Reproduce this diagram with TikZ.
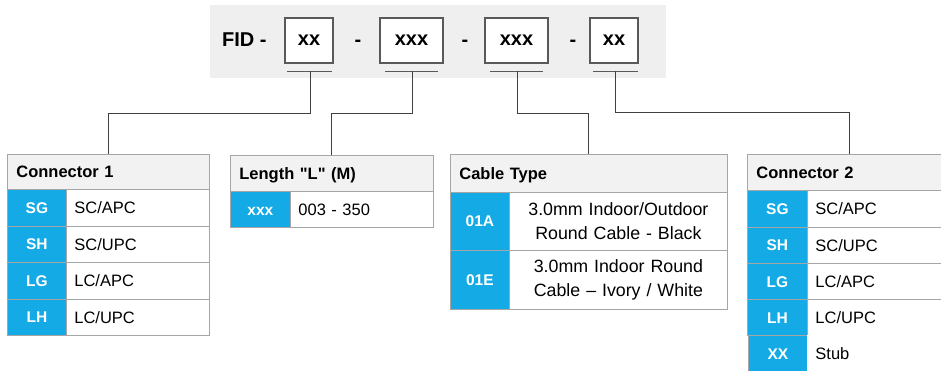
\documentclass[tikz,border=0pt]{standalone}
\usepackage{fontspec}
\setmainfont{Liberation Sans}
\definecolor{codeblue}{HTML}{14AAE6}
\definecolor{hdrgray}{HTML}{F2F2F2}
\definecolor{bordgray}{HTML}{A6A6A6}
\definecolor{bandgray}{HTML}{EFEFEF}
\definecolor{boxgray}{HTML}{595959}
\definecolor{linegray}{HTML}{404040}
\newcommand\myhdrfont{\fontsize{16.5}{19}\selectfont\bfseries}
\newcommand\mycodefont{\fontsize{15.5}{18}\selectfont\bfseries}
\newcommand\myvalfont{\fontsize{16.5}{19}\selectfont}
\newcommand\mycabfont{\fontsize{17.8}{24}\selectfont}
\newcommand\myfidfont{\fontsize{20}{24}\selectfont\bfseries}
\begin{document}
\begin{tikzpicture}[x=1pt,y=-1pt,
  band/.style={fill=bandgray, draw=none, anchor=north west, inner sep=0pt},
  fidbox/.style={draw=boxgray, fill=white, line width=1.2pt, inner sep=0pt, minimum height=45pt, font=\myfidfont},
  plain/.style={inner sep=0pt, font=\myfidfont},
  uline/.style={draw=boxgray, line width=1pt},
  conn/.style={draw=linegray, line width=1pt},
  hdr/.style={draw=bordgray, fill=hdrgray, line width=0.8pt, anchor=north west, inner xsep=9pt, inner ysep=0pt, align=left, font=\myhdrfont, text height=12pt, text depth=0pt},
  code/.style={draw=bordgray, fill=codeblue, line width=0.8pt, anchor=north west, inner sep=0pt, text=white, font=\mycodefont, minimum width=59pt, text height=11.2pt, text depth=0pt},
  val/.style={draw=bordgray, fill=white, line width=0.8pt, anchor=north west, inner xsep=8pt, inner ysep=0pt, align=left, font=\myvalfont, text height=12pt, text depth=0pt},
  cab/.style={draw=bordgray, fill=white, line width=0.8pt, anchor=north west, inner sep=0pt, align=center, font=\mycabfont, text width=218pt, minimum height=58.5pt}
]
\useasboundingbox (0,0) rectangle (941,370);

% ---- top band ----
\node[band, minimum width=456pt, minimum height=73pt] (band) at (210,5) {};
\node[plain, anchor=west] (fid) at (222,40) {FID -};
\node[fidbox, minimum width=48pt] (b1) at (309,40.5) {xx};
\node[plain] (d1) at (358,43) {-};
\node[fidbox, minimum width=63pt] (b2) at (411.5,40.5) {xxx};
\node[plain] (d2) at (465,43) {-};
\node[fidbox, minimum width=63pt] (b3) at (516.5,40.5) {xxx};
\node[plain] (d3) at (573,43) {-};
\node[fidbox, minimum width=48pt] (b4) at (614,40.5) {xx};

\draw[uline] (287,71) -- (332,71);
\draw[uline] (385,71) -- (438,71);
\draw[uline] (490,71) -- (543,71);
\draw[uline] (593,71) -- (638,71);
\coordinate (u1) at (310,71);
\coordinate (u2) at (412,71);
\coordinate (u3) at (517,71);
\coordinate (u4) at (615.5,71);

% ---- Connector 1 ----
\node[hdr, text width=184pt, minimum height=35pt] (h1) at (7,154) {Connector 1};
\node[code, minimum height=36.5pt] (c1a) at (7,189) {SG};
\node[val, text width=127pt, minimum height=36.5pt] (v1a) at (66,189) {SC/APC};
\node[code, minimum height=36.5pt] (c1b) at (7,225.5) {SH};
\node[val, text width=127pt, minimum height=36.5pt] (v1b) at (66,225.5) {SC/UPC};
\node[code, minimum height=36.5pt] (c1c) at (7,262) {LG};
\node[val, text width=127pt, minimum height=36.5pt] (v1c) at (66,262) {LC/APC};
\node[code, minimum height=36.5pt] (c1d) at (7,298.5) {LH};
\node[val, text width=127pt, minimum height=36.5pt] (v1d) at (66,298.5) {LC/UPC};

% ---- Length ----
\node[hdr, text width=185pt, minimum height=36pt] (h2) at (230,155) {Length \textquotedbl L\textquotedbl\ (M)};
\node[code, minimum width=60pt, minimum height=36pt] (c2a) at (230,191) {xxx};
\node[val, text width=127pt, minimum height=36pt] (v2a) at (290,191) {003 - 350};

% ---- Cable Type ----
\node[hdr, text width=259pt, minimum height=37.5pt] (h3) at (450,154) {Cable Type};
\node[code, minimum height=58.5pt] (c3a) at (450,191.5) {01A};
\node[cab] (v3a) at (509,191.5) {3.0mm Indoor/Outdoor\\Round Cable - Black};
\node[code, minimum height=58.5pt] (c3b) at (450,250) {01E};
\node[cab] (v3b) at (509,250) {3.0mm Indoor Round\\Cable – Ivory / White};

% ---- Connector 2 ----
\node[hdr, text width=186pt, minimum height=36pt] (h4) at (747,154) {Connector 2};
\node[code, minimum width=60pt, minimum height=36.5pt] (c4a) at (747,190) {SG};
\node[val, text width=128pt, minimum height=36.5pt] (v4a) at (807,190) {SC/APC};
\node[code, minimum width=60pt, minimum height=36.5pt] (c4b) at (747,226.5) {SH};
\node[val, text width=128pt, minimum height=36.5pt] (v4b) at (807,226.5) {SC/UPC};
\node[code, minimum width=60pt, minimum height=36pt] (c4c) at (747,263) {LG};
\node[val, text width=128pt, minimum height=36pt] (v4c) at (807,263) {LC/APC};
\node[code, minimum width=60pt, minimum height=36pt] (c4d) at (747,299) {LH};
\node[val, text width=128pt, minimum height=36pt] (v4d) at (807,299) {LC/UPC};
\node[code, minimum width=59pt, minimum height=37pt] (c4e) at (748,335) {XX};
\node[val, text width=128pt, minimum height=37pt, draw=none] (v4e) at (807,335) {Stub};

% ---- connectors ----
\draw[conn] (u1) -- ++(0,42) -| (h1.north);
\draw[conn] (u2) -- ++(0,42) -| (h2.north);
\draw[conn] (u3) -- ++(0,42) -| (h3.north);
\draw[conn] (u4) -- ++(0,41) -| (h4.north);
\end{tikzpicture}
\end{document}
